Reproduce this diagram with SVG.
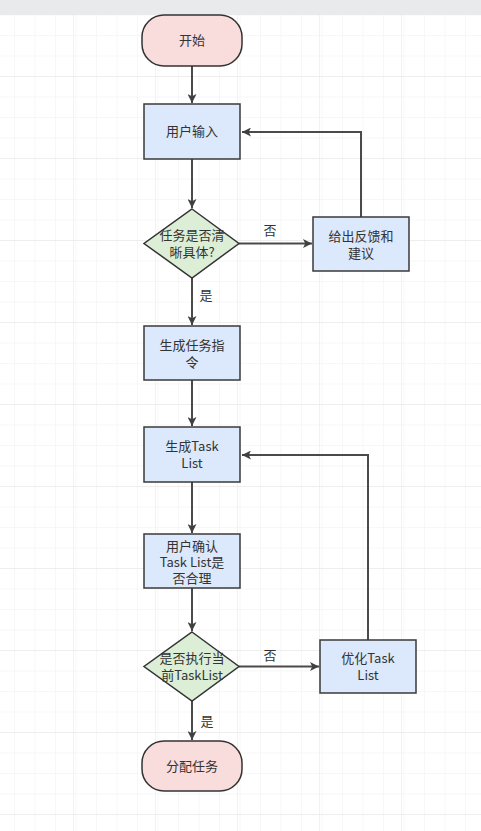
<svg xmlns="http://www.w3.org/2000/svg" width="481" height="831" viewBox="0 0 481 831">
<defs>
<pattern id="grid" x="14" y="14.5" width="20.5" height="20.5" patternUnits="userSpaceOnUse">
<path d="M0 0H20.5M0 0V20.5" fill="none" stroke="#efefef" stroke-width="1"/>
</pattern>
<pattern id="gridMajor" x="73" y="76" width="82" height="82" patternUnits="userSpaceOnUse">
<path d="M0 0H82M0 0V82" fill="none" stroke="#e6e6e6" stroke-width="1"/>
</pattern>
<marker id="arrow" viewBox="0 0 10 10" refX="10" refY="5" markerWidth="9" markerHeight="9" markerUnits="userSpaceOnUse" orient="auto">
<path d="M0 0L10 5L0 10L2.5 5Z" fill="#404040"/>
</marker>
</defs>
<style>
.term{fill:#f9dcdc;stroke:#333;stroke-width:1.5}
.proc{fill:#dce8fb;stroke:#3a3a3a;stroke-width:1.5}
.dec{fill:#dcefd6;stroke:#333;stroke-width:1.5}
text{font-family:"Noto Sans CJK SC","Liberation Sans",sans-serif;font-size:13px;fill:#333;text-anchor:middle}
.edge{fill:none;stroke:#4a4a4a;stroke-width:2;marker-end:url(#arrow)}
</style>
<rect x="0" y="0" width="481" height="831" fill="#ffffff"/>
<rect x="0" y="0" width="481" height="831" fill="url(#grid)"/>
<rect x="0" y="0" width="481" height="831" fill="url(#gridMajor)"/>
<rect x="0" y="0" width="481" height="15" fill="#e9eaeb"/>

<g id="connectors">
<path class="edge" d="M192 66V103"/>
<path class="edge" d="M192 159V208"/>
<path class="edge" d="M239 243.5H312"/>
<path class="edge" d="M361 217V132H242"/>
<path class="edge" d="M192 278V325"/>
<path class="edge" d="M192 380V426"/>
<path class="edge" d="M192 482V533"/>
<path class="edge" d="M192 588V631"/>
<path class="edge" d="M239 666.5H319"/>
<path class="edge" d="M368 640V455H242"/>
<path class="edge" d="M192 701V740"/>
<text x="270" y="235">否</text>
<text x="206" y="300">是</text>
<text x="270" y="660">否</text>
<text x="207" y="726">是</text>
</g>

<g id="start">
<rect class="term" x="142" y="15" width="100" height="51" rx="22" ry="22"/>
<text x="192" y="45">开始</text>
</g>
<g id="user-input">
<rect class="proc" x="144" y="104" width="96" height="55"/>
<text x="192" y="136">用户输入</text>
</g>
<g id="decision-clear">
<polygon class="dec" points="192,209 239,243.5 192,278 144,243.5"/>
<text x="192" y="240">任务是否清</text>
<text x="192" y="257">晰具体?</text>
</g>
<g id="feedback">
<rect class="proc" x="313" y="217" width="96" height="54"/>
<text x="361" y="241">给出反馈和</text>
<text x="361" y="258">建议</text>
</g>
<g id="gen-instr">
<rect class="proc" x="144" y="326" width="96" height="54"/>
<text x="192" y="350">生成任务指</text>
<text x="192" y="367">令</text>
</g>
<g id="gen-tasklist">
<rect class="proc" x="144" y="427" width="96" height="55"/>
<text x="192" y="451">生成Task</text>
<text x="192" y="468">List</text>
</g>
<g id="confirm">
<rect class="proc" x="144" y="534" width="96" height="54"/>
<text x="192" y="551">用户确认</text>
<text x="192" y="567">Task List是</text>
<text x="192" y="583">否合理</text>
</g>
<g id="decision-exec">
<polygon class="dec" points="192,632 239,666.5 192,701 144,666.5"/>
<text x="192" y="663">是否执行当</text>
<text x="192" y="680">前TaskList</text>
</g>
<g id="optimize">
<rect class="proc" x="320" y="640" width="96" height="53"/>
<text x="368" y="663">优化Task</text>
<text x="368" y="680">List</text>
</g>
<g id="assign">
<rect class="term" x="142" y="741" width="100" height="50" rx="22" ry="22"/>
<text x="192" y="771">分配任务</text>
</g>
</svg>
